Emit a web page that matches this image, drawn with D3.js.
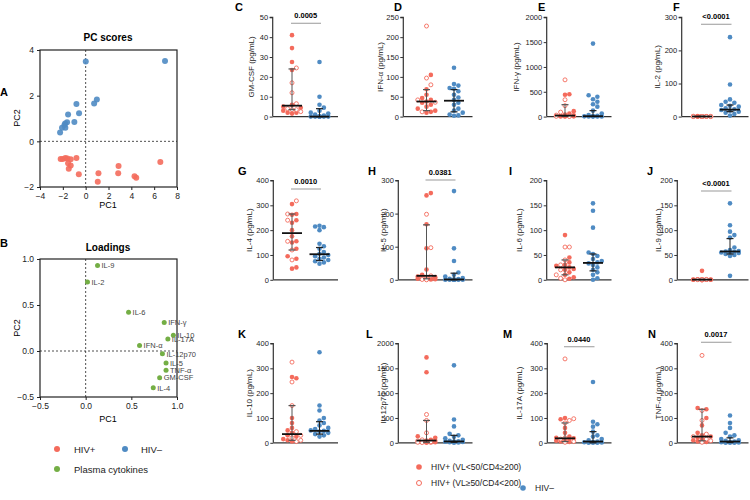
<!DOCTYPE html>
<html><head><meta charset="utf-8">
<script src="https://cdn.jsdelivr.net/npm/d3@7"></script>
<style>body{margin:0;background:#fff}svg{font-family:"Liberation Sans",Arial,sans-serif}</style>
</head><body><svg id="c" width="750" height="500"></svg>
<script>
// ---------- DATA ----------
const pcPosX = [-2.19,-2.01,-1.78,-1.6,-1.31,-0.81,-1.54,-1.31,-1.48,-0.6,1.12,1.06,2.88,2.85,4.28,4.43,6.54];
const pcPosY = [-0.77,-0.77,-0.73,-0.75,-0.79,-0.73,-0.96,-1.06,-1.2,-1.44,-1.4,-1.77,-1.08,-1.4,-1.53,-1.59,-0.9];
const pcNegX = [0.01,6.95,0.98,0.74,-0.81,-0.58,-1.54,-0.99,-1.63,-1.8,-1.86,-2.07,-1.78,-2.24];
const pcNegY = [3.5,3.52,1.83,1.66,1.64,1.23,1.18,0.85,0.84,0.78,0.72,0.6,0.59,0.39];
const pcTicksX = [-4,-2,0,2,4,6,8];
const pcTicksY = [-2,0,2,4];

const loadNames = ["IL-9","IL-2","IL-6","IFN-γ","IL-10","IL-17A","IFN-α","IL-12p70","IL-5","TNF-α","GM-CSF","IL-4"];
const loadPC1 = [0.13,0.02,0.47,0.86,0.96,0.9,0.59,0.84,0.88,0.88,0.81,0.74];
const loadPC2 = [0.93,0.75,0.42,0.31,0.17,0.13,0.06,-0.03,-0.13,-0.21,-0.29,-0.40];
const loadTicksX = [-0.5,0.0,0.5,1.0];
const loadTicksY = [-0.5,0.0,0.5,1.0];

const panelLetters = ["C","D","E","F","G","H","I","J","K","L","M","N"];
const cytokines = ["GM-CSF","IFN-α","IFN-γ","IL-2","IL-4","IL-5","IL-6","IL-9","IL-10","IL-12p70","IL-17A","TNF-α"];
const yMax  = [50,250,2000,300,400,300,200,200,400,2000,400,400];
const yStep = [10,50,500,100,100,100,50,50,100,500,100,100];
const pValues = ["0.0005","","","<0.0001","0.0010","0.0381","","<0.0001","","","0.0440","0.0017"];

const posFilled = [
 [41,34.5,27.5,23.5,6,5,4.5,3,2,2,1.5],
 [105,69,55,47,42,38,35,30,25,20,15,12,10],
 [450,440,110,60,40,25,15,10,5,3,2],
 [1.5,1,1,0.8,0.5,0.5,0.3,0.2,0.1,0,0,0],
 [305,265,262,240,230,200,175,155,150,125,95,85,50,45],
 [262,255,168,95,31,15,10,8,5,3,2,1],
 [90,45,35,30,28,25,22,20,15,10,5,2],
 [18,1,0.5,0.5,0.3,0.2,0,0,0,0,0,0],
 [265,260,100,80,60,50,40,30,25,15,10,5],
 [1720,1420,133,100,60,45,40,30,20,10,5,2],
 [100,95,60,40,25,20,18,15,10,8,5,3],
 [140,135,100,70,40,30,25,20,15,10,5,3]
];
const posOpen = [
 [24.5,17,12,6.5,4,3.5,3.5,2.5],
 [228,97,80,42,36,12],
 [740,340,220,90,30,10,5,2],
 [1.2,0.8,0.5,0.3,0,0,0,0],
 [318,265,240,155,120,80],
 [198,97,12,8,5,3,1,0],
 [66,66,40,30,20,10,3,0],
 [0.8,0.5,0.3,0,0,0,0,0],
 [325,245,150,45,30,20,10,5],
 [570,450,200,60,40,20,10,5],
 [338,97,90,80,20,15,5,2],
 [352,130,90,35,25,15,8,2]
];
const negVals = [
 [27.5,10,6,4.5,3,2,1.5,1,0.5,0.2,0,0,0,0,0,0,0],
 [123,82,78,72,70,64,55,48,42,35,30,20,15,10,5,3,2],
 [1470,430,400,350,300,250,200,120,60,30,15,10,5,3,2,1,0],
 [240,97,52,45,42,35,33,30,25,22,20,18,15,12,8,3],
 [218,215,212,200,145,135,125,112,105,100,95,90,85,80,75,70,65],
 [268,95,57,22,15,10,5,3,2,1,0,0,0,0,0,0,0],
 [154,139,105,55,52,48,42,38,35,33,30,25,20,15,10,3,0],
 [154,110,97,90,85,65,60,58,57,56,55,55,54,52,50,48,8],
 [365,150,130,100,90,80,70,60,55,50,48,45,40,35,30,25],
 [1560,470,330,180,150,120,90,60,40,30,25,20,15,10,5,2],
 [245,85,75,65,45,30,25,15,10,5,3,2,1,0,0,0],
 [110,80,60,40,30,25,15,10,8,5,3,2,1,0,0,0]
];
// [Q1, median, Q3]
const posSummary = [[3.5,5.5,24],[15,38,68],[3,20,240],[0,0.3,1],[120,188,265],[3,12,166],[10,25,40],[0,0.3,0.8],[10,35,150],[10,45,450],[5,18,80],[8,25,135]];
const negSummary = [[0,0,4],[12,40,68],[2,8,120],[15,21,35],[78,103,130],[0,1,20],[18,34,52],[52,57,83],[35,48,85],[10,27,150],[0,5,45],[1,5,20]];

// ---------- STYLE / LAYOUT ----------
const RED = "#f46b5c", BLUE = "#4f8bc3", GREEN = "#74ae45";
const svg = d3.select("#c");
const FONT = '"Liberation Sans",Arial,sans-serif';

function boxPanel(xd, yd, x0, x1, y0, y1, xt, yt, fmt) {
  const x = d3.scaleLinear().domain(xd).range([x0, x1]);
  const y = d3.scaleLinear().domain(yd).range([y1, y0]);
  const g = svg.append("g");
  g.append("g").attr("transform", `translate(0,${y1})`).call(d3.axisBottom(x).tickValues(xt).tickSize(3).tickFormat(fmt))
   .call(a => { a.select(".domain").remove(); a.selectAll("text").attr("font-size", 8.5).attr("fill", "#222").attr("font-family", FONT); a.selectAll("line").attr("stroke", "#222"); });
  g.append("g").attr("transform", `translate(${x0},0)`).call(d3.axisLeft(y).tickValues(yt).tickSize(3).tickFormat(fmt))
   .call(a => { a.select(".domain").remove(); a.selectAll("text").attr("font-size", 8.5).attr("fill", "#222").attr("font-family", FONT); a.selectAll("line").attr("stroke", "#222"); });
  g.append("rect").attr("x", x0).attr("y", y0).attr("width", x1 - x0).attr("height", y1 - y0)
   .attr("fill", "none").attr("stroke", "#222").attr("stroke-width", 1.2);
  g.append("line").attr("x1", x(0)).attr("x2", x(0)).attr("y1", y0).attr("y2", y1).attr("stroke", "#222").attr("stroke-dasharray", "2,2").attr("stroke-width", 0.8);
  g.append("line").attr("x1", x0).attr("x2", x1).attr("y1", y(0)).attr("y2", y(0)).attr("stroke", "#222").attr("stroke-dasharray", "2,2").attr("stroke-width", 0.8);
  return {x, y, g};
}

// ---- Panel A ----
const A = boxPanel([-4, 8], [-2, 4], 40, 177, 50, 187, pcTicksX, pcTicksY, d3.format("d"));
A.g.selectAll(".pp").data(pcPosX).join("circle").attr("cx", d => A.x(d)).attr("cy", (d, i) => A.y(pcPosY[i])).attr("r", 3).attr("fill", RED).attr("opacity", 0.9);
A.g.selectAll(".pn").data(pcNegX).join("circle").attr("cx", d => A.x(d)).attr("cy", (d, i) => A.y(pcNegY[i])).attr("r", 3).attr("fill", BLUE).attr("opacity", 0.9);
svg.append("text").attr("x", 108).attr("y", 41).attr("text-anchor", "middle").attr("font-size", 10).attr("font-weight", "bold").text("PC scores");
svg.append("text").attr("x", 108).attr("y", 208).attr("text-anchor", "middle").attr("font-size", 9).text("PC1");
svg.append("text").attr("transform", "translate(20,118) rotate(-90)").attr("text-anchor", "middle").attr("font-size", 9).text("PC2");
svg.append("text").attr("x", 0).attr("y", 96).attr("font-size", 11).attr("font-weight", "bold").text("A");

// ---- Panel B ----
const B = boxPanel([-0.5, 1.0], [-0.5, 1.0], 40, 177, 259, 397, loadTicksX, loadTicksY, d3.format(".1f"));
B.g.selectAll(".lp").data(loadPC1).join("circle").attr("cx", d => B.x(d)).attr("cy", (d, i) => B.y(loadPC2[i])).attr("r", 2.5).attr("fill", GREEN);
B.g.selectAll(".lt").data(loadNames).join("text").attr("x", (d, i) => B.x(loadPC1[i]) + 4).attr("y", (d, i) => B.y(loadPC2[i]) + 2.8)
  .attr("font-size", 7.5).attr("fill", "#444").text(d => d);
svg.append("text").attr("x", 108).attr("y", 251).attr("text-anchor", "middle").attr("font-size", 10).attr("font-weight", "bold").text("Loadings");
svg.append("text").attr("x", 108).attr("y", 422).attr("text-anchor", "middle").attr("font-size", 9).text("PC1");
svg.append("text").attr("transform", "translate(20,328) rotate(-90)").attr("text-anchor", "middle").attr("font-size", 9).text("PC2");
svg.append("text").attr("x", 0).attr("y", 247).attr("font-size", 11).attr("font-weight", "bold").text("B");

// left legend
const lg = svg.append("g").attr("font-size", 9.5).attr("fill", "#222");
lg.append("circle").attr("cx", 57).attr("cy", 449).attr("r", 3).attr("fill", RED);
lg.append("text").attr("x", 74).attr("y", 452.5).text("HIV+");
lg.append("circle").attr("cx", 125).attr("cy", 449).attr("r", 3).attr("fill", BLUE);
lg.append("text").attr("x", 141).attr("y", 452.5).text("HIV–");
lg.append("circle").attr("cx", 57).attr("cy", 469).attr("r", 3).attr("fill", GREEN);
lg.append("text").attr("x", 74).attr("y", 472.5).text("Plasma cytokines");

// ---- Panels C-N ----
const colC1 = [292, 426.5, 565, 702];
const colC2 = [319.5, 454, 593, 730];
const axisXs = [[272.7, 403.3, 546.7, 681.7], [273.3, 398.3, 546.7, 677.3], [273.3, 398.3, 547.3, 677.3]];
const rowTop = [17.3, 180.5, 343.5];
const plotH = 99.3;
const letterX = [[235, 394, 538, 673], [238, 368, 509, 647], [238, 366, 503, 648]];
const ylabX = [[252, 381, 517, 658], [249.5, 383.5, 519.5, 658.5], [249.5, 383.5, 519.5, 658.5]];
const pLineOff = [6, 0, 0, 7, 8.5, -0.5, 0, 10.5, 0, 0, 3.2, -1.2];

function swarm(vals, y, r, maxW) {
  const order = vals.map((v, i) => i).sort((a, b) => vals[a] - vals[b]);
  const placed = [];
  const off = new Array(vals.length);
  const cands = [0];
  for (let k = 1; k * r * 1.9 <= maxW; k++) { cands.push(k * r * 1.9); cands.push(-k * r * 1.9); }
  order.forEach(i => {
    const py = y(vals[i]);
    let best = null, bestD = -1;
    for (const c of cands) {
      let md = Infinity;
      for (const p of placed) { const d = Math.hypot(p[0] - c, p[1] - py); if (d < md) md = d; }
      if (md >= 2 * r * 0.95) { best = c; break; }
      if (md > bestD) { bestD = md; best = c; }
    }
    off[i] = best;
    placed.push([best, py]);
  });
  return off;
}

panelLetters.forEach((L, p) => {
  const row = Math.floor(p / 4), col = p % 4;
  const ax = axisXs[row][col], top = rowTop[row], bot = top + plotH;
  const c1 = colC1[col], c2 = colC2[col];
  const y = d3.scaleLinear().domain([0, yMax[p]]).range([bot, top]);
  const g = svg.append("g");
  g.append("g").attr("transform", `translate(${ax},0)`)
    .call(d3.axisLeft(y).tickValues(d3.range(0, yMax[p] + 1, yStep[p])).tickSize(3).tickSizeOuter(0).tickFormat(d3.format("d")))
    .call(a => { a.select(".domain").attr("stroke", "#333").attr("stroke-width", 1.2).attr("d", `M-3,${top}H0V${bot}`);
                 a.selectAll("line").attr("stroke", "#333");
                 a.selectAll("text").attr("font-size", 7.5).attr("fill", "#222").attr("font-family", FONT).attr("x", -4.5); });
  g.append("line").attr("x1", ax).attr("x2", c2 + 18.5).attr("y1", bot).attr("y2", bot).attr("stroke", "#333").attr("stroke-width", 1.2);
  svg.append("text").attr("x", letterX[row][col]).attr("y", top - 6).attr("font-size", 11).attr("font-weight", "bold").text(L);
  svg.append("text").attr("transform", `translate(${ylabX[row][col] + 2},${(top + bot) / 2}) rotate(-90)`).attr("text-anchor", "middle")
    .attr("font-size", 8).attr("fill", "#222").text(cytokines[p] + " (pg/mL)");
  if (pValues[p]) {
    const ly = top + pLineOff[p];
    g.append("line").attr("x1", c1 - 1).attr("x2", c2 + 1.5).attr("y1", ly).attr("y2", ly).attr("stroke", "#aaa").attr("stroke-width", 1.2);
    g.append("text").attr("x", (c1 + c2) / 2).attr("y", ly - 5).attr("text-anchor", "middle").attr("font-size", 7.5).attr("font-weight", "bold").text(pValues[p]);
  }
  const posAll = posFilled[p].map(v => ({v, open: false})).concat(posOpen[p].map(v => ({v, open: true})));
  const offP = swarm(posAll.map(d => d.v), y, 2.3, 12);
  g.selectAll(".pp").data(posAll).join("circle")
    .attr("cx", (d, i) => c1 + offP[i]).attr("cy", d => y(d.v)).attr("r", d => d.open ? 2 : 2.3)
    .attr("fill", d => d.open ? "#fff" : RED).attr("stroke", d => d.open ? RED : "none").attr("stroke-width", 0.9);
  const offN = swarm(negVals[p], y, 2.3, 12);
  g.selectAll(".np").data(negVals[p]).join("circle")
    .attr("cx", (d, i) => c2 + offN[i]).attr("cy", d => y(d)).attr("r", 2.3).attr("fill", BLUE);
  [[posSummary[p], c1, "#555"], [negSummary[p], c2, "#222"]].forEach(([s, cx, wc]) => {
    g.append("line").attr("x1", cx).attr("x2", cx).attr("y1", y(s[0])).attr("y2", y(s[2])).attr("stroke", wc).attr("stroke-width", 1);
    [s[0], s[2]].forEach(v => g.append("line").attr("x1", cx - 3.5).attr("x2", cx + 3.5).attr("y1", y(v)).attr("y2", y(v)).attr("stroke", wc).attr("stroke-width", 1.2));
    g.append("line").attr("x1", cx - 10).attr("x2", cx + 10).attr("y1", y(s[1])).attr("y2", y(s[1])).attr("stroke", "#111").attr("stroke-width", 1.8);
  });
});

// bottom legend
const bl = svg.append("g").attr("font-size", 8.5).attr("fill", "#222");
bl.append("circle").attr("cx", 419).attr("cy", 467).attr("r", 2.8).attr("fill", RED);
bl.append("text").attr("x", 431).attr("y", 470).text("HIV+ (VL<50/CD4≥200)");
bl.append("circle").attr("cx", 419).attr("cy", 483).attr("r", 2.5).attr("fill", "#fff").attr("stroke", RED).attr("stroke-width", 1);
bl.append("text").attr("x", 431).attr("y", 486).text("HIV+ (VL≥50/CD4<200)");
bl.append("circle").attr("cx", 523).attr("cy", 488).attr("r", 2.8).attr("fill", BLUE);
bl.append("text").attr("x", 535).attr("y", 491).text("HIV–");
</script></body></html>
